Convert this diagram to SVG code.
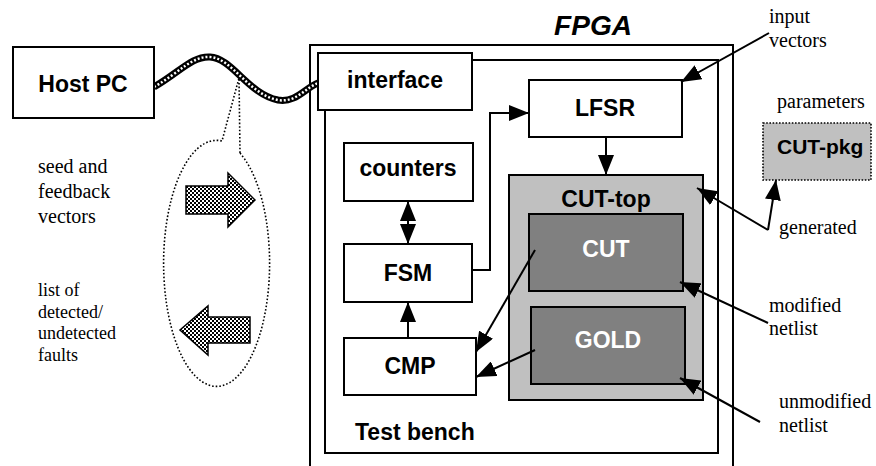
<svg xmlns="http://www.w3.org/2000/svg" width="876" height="466" viewBox="0 0 876 466">
<style>
.box{fill:#fff;stroke:#000;stroke-width:2}
.bl{font-family:"Liberation Sans",Arial,sans-serif;font-weight:bold;font-size:23px;fill:#000}
.wt{font-family:"Liberation Sans",Arial,sans-serif;font-weight:bold;font-size:23px;fill:#fff}
.sr{font-family:"Liberation Serif","Times New Roman",serif;font-size:20px;fill:#000}
.ln{fill:none;stroke:#000;stroke-width:2}
.dot{fill:none;stroke:#000;stroke-width:1.6;stroke-dasharray:1.6 2}
</style>
<defs>
<marker id="ah" viewBox="0 0 20 16" refX="20" refY="8" markerWidth="20" markerHeight="16" markerUnits="userSpaceOnUse" orient="auto-start-reverse">
<path d="M0,0 L20,8 L0,16 z" fill="#000"/>
</marker>
<pattern id="check" width="4" height="4" patternUnits="userSpaceOnUse">
<rect width="4" height="4" fill="#fff"/>
<rect width="2" height="2" fill="#000"/>
<rect x="2" y="2" width="2" height="2" fill="#000"/>
</pattern>
</defs>
<rect width="876" height="466" fill="#fff"/>

<g id="fpga">
<rect x="310" y="45" width="423" height="440" fill="#fff" stroke="#000" stroke-width="2"/>
<text x="593" y="35" text-anchor="middle" font-family="Liberation Sans, Arial, sans-serif" font-weight="bold" font-style="italic" font-size="28">FPGA</text>
</g>
<g id="testbench">
<rect x="325" y="60" width="393" height="393" class="box"/>
<text x="355" y="440" class="bl">Test bench</text>
</g>

<g id="cable">
<path d="M154,87 C180,72 192,56 210,57 C232,58 248,94 278,100 C296,103 305,88 318,83" fill="none" stroke="#000" stroke-width="7"/>
<path d="M154,87 C180,72 192,56 210,57 C232,58 248,94 278,100 C296,103 305,88 318,83" fill="none" stroke="#fff" stroke-width="2.5" stroke-dasharray="2 2"/>
</g>

<g id="hostpc">
<rect x="13" y="47" width="141" height="71" class="box"/>
<text x="83" y="92" text-anchor="middle" class="bl">Host PC</text>
</g>

<g id="callout">
<path d="M240,153 A53 123 0 1 1 222,141 L239,78 Z" class="dot"/>
<path d="M186,186 H228 V173 L255,200 L228,227 V214 H186 Z" fill="url(#check)" stroke="#000" stroke-width="1.5"/>
<path d="M250,317 H208 V306 L180,330 L208,355 V343 H250 Z" fill="url(#check)" stroke="#000" stroke-width="1.5"/>
</g>

<g id="labels-left">
<text class="sr"><tspan x="38" y="173">seed and</tspan><tspan x="38" y="198">feedback</tspan><tspan x="38" y="223">vectors</tspan></text>
<text class="sr" style="font-size:18px"><tspan x="38" y="296">list of</tspan><tspan x="38" y="318">detected/</tspan><tspan x="38" y="339">undetected</tspan><tspan x="38" y="361">faults</tspan></text>
</g>

<g id="interface">
<rect x="318" y="53" width="154" height="57" class="box"/>
<text x="395" y="88" text-anchor="middle" class="bl">interface</text>
</g>

<g id="lfsr">
<rect x="529" y="80" width="153" height="57" class="box"/>
<text x="605" y="116" text-anchor="middle" class="bl">LFSR</text>
</g>

<g id="counters">
<rect x="344" y="143" width="129" height="58" class="box"/>
<text x="408" y="176" text-anchor="middle" class="bl">counters</text>
</g>

<g id="fsm">
<rect x="344" y="244" width="128" height="58" class="box"/>
<text x="408" y="281" text-anchor="middle" class="bl">FSM</text>
</g>

<g id="cmp">
<rect x="344" y="338" width="132" height="57" class="box"/>
<text x="410" y="374" text-anchor="middle" class="bl">CMP</text>
</g>

<g id="cuttop">
<rect x="509" y="175" width="194" height="225" fill="#c0c0c0" stroke="#000" stroke-width="2"/>
<text x="606" y="207" text-anchor="middle" class="bl">CUT-top</text>
</g>

<g id="cut">
<rect x="529" y="214" width="154" height="77" fill="#808080" stroke="#000" stroke-width="2"/>
<text x="606" y="257" text-anchor="middle" class="wt">CUT</text>
</g>

<g id="gold">
<rect x="531" y="307" width="154" height="77" fill="#808080" stroke="#000" stroke-width="2"/>
<text x="608" y="348" text-anchor="middle" class="wt">GOLD</text>
</g>

<g id="cutpkg">
<rect x="763" y="123" width="108" height="57" fill="#c0c0c0" stroke="#000" stroke-width="1.6" stroke-dasharray="1.6 1.6"/>
<text x="777" y="154" class="bl" style="font-size:21px">CUT-pkg</text>
</g>

<g id="labels-right">
<text class="sr"><tspan x="769" y="23">input</tspan><tspan x="769" y="47">vectors</tspan></text>
<text x="777" y="108" class="sr">parameters</text>
<text x="779" y="234" class="sr">generated</text>
<text class="sr"><tspan x="769" y="312">modified</tspan><tspan x="769" y="335">netlist</tspan></text>
<text class="sr"><tspan x="779" y="408">unmodified</tspan><tspan x="779" y="432">netlist</tspan></text>
</g>

<g id="connectors">
<path d="M769,33 L681,82" class="ln" marker-end="url(#ah)"/>
<path d="M606,137 V175" class="ln" marker-end="url(#ah)"/>
<path d="M472,270 H490 V113 H529" class="ln" marker-end="url(#ah)"/>
<path d="M408,201 V244" class="ln" marker-start="url(#ah)" marker-end="url(#ah)"/>
<path d="M408,338 V302" class="ln" marker-end="url(#ah)"/>
<path d="M535,250 L476,352" class="ln" marker-end="url(#ah)"/>
<path d="M535,350 L476,377" class="ln" marker-end="url(#ah)"/>
<path d="M768,230 L776,180" class="ln" marker-end="url(#ah)"/>
<path d="M768,230 L697,188" class="ln" marker-end="url(#ah)"/>
<path d="M768,323 L680,282" class="ln" marker-end="url(#ah)"/>
<path d="M760,422 L680,378" class="ln" marker-end="url(#ah)"/>
</g>
</svg>
